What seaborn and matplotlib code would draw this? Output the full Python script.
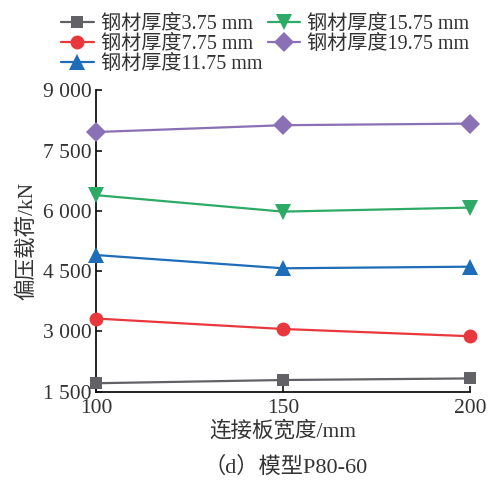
import pandas as pd
import matplotlib
matplotlib.use("Agg")
import matplotlib.pyplot as plt
import seaborn as sns
from matplotlib.ticker import FuncFormatter


# =====================
# Data
# =====================

widths = [100, 150, 200]

labels = [
    "钢材厚度3.75 mm",
    "钢材厚度7.75 mm",
    "钢材厚度11.75 mm",
    "钢材厚度15.75 mm",
    "钢材厚度19.75 mm",
]

load_375 = [1710, 1790, 1830]
load_775 = [3320, 3060, 2880]
load_1175 = [4900, 4570, 4610]
load_1575 = [6390, 5980, 6080]
load_1975 = [7960, 8130, 8170]

series = [load_375, load_775, load_1175, load_1575, load_1975]

colors = ["#626266", "#e8383d", "#1f6cb8", "#2daa66", "#8a70b4"]
markers = ["s", "o", "^", "v", "D"]
sizes = [9, 10, 11, 11, 10]


rows = []
for lab, vals in zip(labels, series):
    for w, v in zip(widths, vals):
        rows.append({"width": w, "load": v, "thk": lab})

df = pd.DataFrame(rows)


# =====================
# Style
# =====================

sns.set_style("ticks")
plt.rcParams["font.family"] = ["Liberation Serif", "Noto Sans CJK SC"]
plt.rcParams["axes.unicode_minus"] = False

text_color = "#333333"


# =====================
# Plot
# =====================

fig = plt.figure(figsize=(4.92, 4.80), dpi=100)
ax = fig.add_axes([0.195, 0.184, 0.76, 0.628])

for lab, c, m, s in zip(labels, colors, markers, sizes):
    sns.lineplot(
        data=df[df["thk"] == lab],
        x="width",
        y="load",
        color=c,
        marker=m,
        markersize=s,
        markeredgewidth=0,
        linewidth=1.6,
        label=lab,
        ax=ax,
        clip_on=False,
        zorder=3,
    )

ax.set_xlim(100, 200)
ax.set_ylim(1500, 9000)
ax.set_xticks([100, 150, 200])
ax.set_yticks([1500, 3000, 4500, 6000, 7500, 9000])
ax.yaxis.set_major_formatter(
    FuncFormatter(lambda v, p: f"{int(v):,}".replace(",", " "))
)

ax.tick_params(
    direction="in",
    length=4,
    width=1.2,
    labelsize=15.5,
    colors="#111111",
    labelcolor=text_color,
    pad=3,
)
ax.tick_params(axis="x", pad=5)

for side in ["top", "right"]:
    ax.spines[side].set_visible(False)
for side in ["left", "bottom"]:
    ax.spines[side].set_linewidth(1.3)
    ax.spines[side].set_color("#111111")

ax.set_xlabel("连接板宽度/mm", fontsize=15.5, color=text_color, labelpad=2)
ax.set_ylabel("偏压载荷/kN", fontsize=15.5, color=text_color, labelpad=4)

handles, leg_labels = ax.get_legend_handles_labels()
leg = fig.legend(
    handles,
    leg_labels,
    loc="upper left",
    bbox_to_anchor=(0.1, 0.995),
    ncol=2,
    frameon=False,
    fontsize=14.5,
    handlelength=1.6,
    handletextpad=0.35,
    columnspacing=0.3,
    labelspacing=0.05,
    borderaxespad=0.2,
)
for t in leg.get_texts():
    t.set_color(text_color)
if ax.get_legend():
    ax.get_legend().remove()

fig.text(
    0.58, 0.027,
    "（d）模型P80-60",
    ha="center",
    va="center",
    fontsize=16,
    color=text_color,
)

fig.savefig("out.png", dpi=100)
